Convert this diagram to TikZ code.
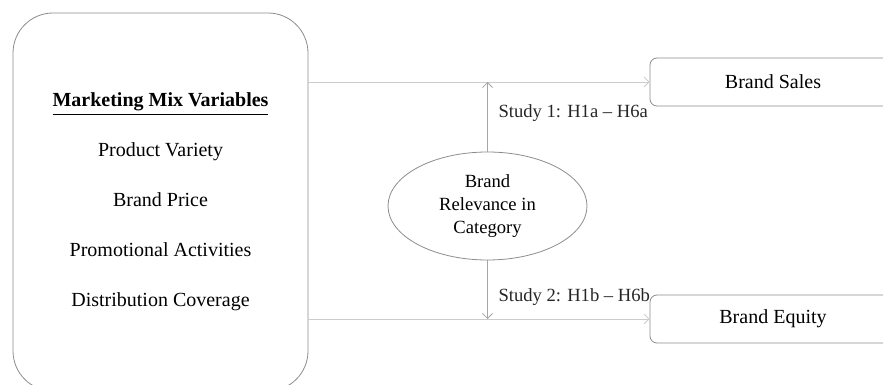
\documentclass[tikz,border=0pt]{standalone}
\usepackage{fontspec}
\setmainfont{Liberation Serif}
\usepackage{tikz}
\usetikzlibrary{arrows.meta, positioning, shapes.geometric}

\begin{document}
\begin{tikzpicture}[
  x=0.5pt, y=-0.5pt,
  mixbox/.style={draw=gray!90, rounded corners=20pt, minimum width=147.5pt, minimum height=189pt, align=center, font=\fontsize{10}{25}\selectfont},
  outbox/.style={draw=gray!90, rounded corners=3.5pt, minimum width=123pt, minimum height=24pt, font=\fontsize{10}{12}\selectfont},
  moderator/.style={ellipse, draw=gray!90, minimum width=99.5pt, minimum height=54pt, inner sep=0pt, align=center, font=\fontsize{9.3}{11.3}\selectfont},
  link/.style={draw=gray!40, -{Straight Barb[length=2.5pt, width=5pt]}},
  studylink/.style={draw=gray!70, -{Straight Barb[length=2.5pt, width=5pt]}},
  studylabel/.style={right=2pt, font=\fontsize{9.3}{11}\selectfont, text=black!85},
]
  \useasboundingbox (0,0) rectangle (883,385);

  % left block
  \node[mixbox] (mix) at (160.5,202) {\underline{\textbf{Marketing Mix Variables}}\\Product Variety\\Brand Price\\Promotional Activities\\Distribution Coverage};

  % outcomes
  \node[outbox] (sales) at (773,82) {Brand Sales};
  \node[outbox] (equity) at (773,319) {Brand Equity};

  % moderator
  \node[moderator] (relevance) at (487.5,206) {Brand\\Relevance in\\Category};

  \coordinate (salesjoin) at (relevance.north |- sales.west);
  \coordinate (equityjoin) at (relevance.south |- equity.west);

  \draw[link] (mix.east |- sales.west) -- (sales.west);
  \draw[link] (mix.east |- equity.west) -- (equity.west);

  \draw[studylink] (relevance.north) -- node[studylabel, pos=0.55] {Study 1: H1a -- H6a} (salesjoin);
  \draw[studylink] (relevance.south) -- node[studylabel, pos=0.63] {Study 2: H1b -- H6b} (equityjoin);
\end{tikzpicture}
\end{document}
